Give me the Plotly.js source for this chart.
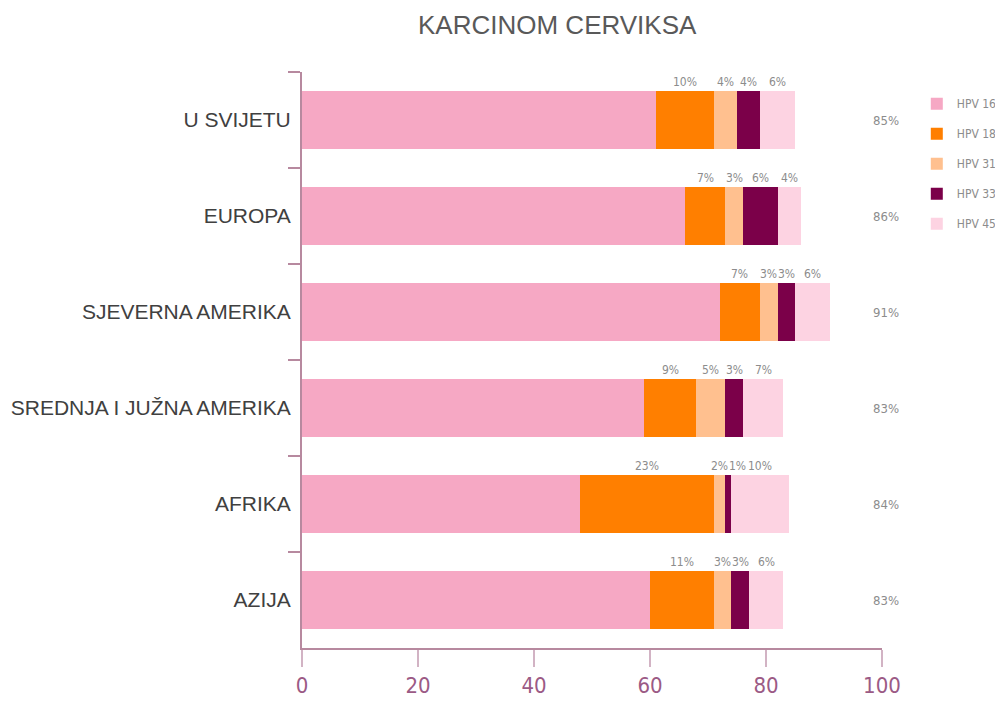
<!DOCTYPE html>
<html><head><meta charset="utf-8">
<script src="https://cdn.plot.ly/plotly-3.0.1.min.js"></script>
<style>body{margin:0;background:#fff}#chart{width:995px;height:704px}</style>
</head><body><div id="chart"></div>
<script>
const categories = ["U SVIJETU","EUROPA","SJEVERNA AMERIKA","SREDNJA I JUŽNA AMERIKA","AFRIKA","AZIJA"];
const seriesNames = ["HPV 16","HPV 18","HPV 31","HPV 33","HPV 45"];
const hpv16 = [61,66,72,59,48,60];
const hpv18 = [10,7,7,9,23,11];
const hpv31 = [4,3,3,5,2,3];
const hpv33 = [4,6,3,3,1,3];
const hpv45 = [6,4,6,7,10,6];
const totals = [85,86,91,83,84,83];
const xTicks = [0,20,40,60,80,100];
const colors = ["#f6a8c4","#ff7f00","#ffc08f","#7b0049","#fdd3e2"];

const series = [hpv16,hpv18,hpv31,hpv33,hpv45];
const traces = series.map((vals,i)=>({
  type:'bar', orientation:'h', name:seriesNames[i], x:vals, y:categories,
  marker:{color:colors[i]}, legendgroup:'g'+i, hoverinfo:'x+name'
}));

const PX_PER_UNIT = 5.8;   // plot width 580px / 100 units, used only to keep labels from colliding
const annotations = [];
const narrow = 'DejaVu Sans Condensed, Liberation Sans Narrow, Liberation Sans, Arial';
const labelFont = {family:narrow, size:12, color:'#8c8c8c'};
categories.forEach((c,ci)=>{
  let cum = hpv16[ci];
  let prevRight = -1e9;
  for (let s=1;s<series.length;s++){
    const v = series[s][ci];
    const txt = v+'%';
    const w = txt.length*8;
    const cx = (cum+v/2)*PX_PER_UNIT;
    let shift = 0;
    if (cx - w/2 < prevRight + 2) shift = prevRight + 2 - (cx - w/2);
    prevRight = cx + shift + w/2;
    annotations.push({x:cum+v/2, y:c, xref:'x', yref:'y', text:txt, showarrow:false,
      yanchor:'bottom', yshift:29, xshift:shift, font:labelFont});
    cum += v;
  }
  annotations.push({x:100, y:c, xref:'x', yref:'y', text:totals[ci]+'%', showarrow:false,
    xanchor:'center', xshift:4, font:{family:narrow, size:13, color:'#8c8c8c'}});
});

const layout = {
  width:995, height:704, barmode:'stack', bargap:0.4,
  margin:{l:302, r:113, t:72, b:56, autoexpand:false},
  paper_bgcolor:'#fff', plot_bgcolor:'#fff',
  title:{text:'KARCINOM CERVIKSA', x:0.56, xref:'container', xanchor:'center', y:0.965, yanchor:'middle',
    font:{family:'Liberation Sans, Arial', size:26, color:'#595959'}},
  xaxis:{range:[0,100], tickvals:xTicks, ticktext:xTicks.map(String), showgrid:false, zeroline:false,
    showline:true, linecolor:'#b7899f', linewidth:2, ticks:'outside', ticklen:17, tickcolor:'#d2b3c4', tickwidth:2,
    tickfont:{family:narrow, size:22, color:'#9b5a85'}, fixedrange:true},
  yaxis:{type:'category', autorange:'reversed', showgrid:false, zeroline:false,
    showline:true, linecolor:'#b7899f', linewidth:2, ticks:'outside', tickson:'boundaries', ticklen:12,
    tickcolor:'#b7899f', tickwidth:2, ticklabelstandoff:5,
    tickfont:{family:'Liberation Sans, Arial', size:21, color:'#404040'}, fixedrange:true},
  legend:{x:1.06, xanchor:'left', y:0.97, yanchor:'top', tracegroupgap:11, itemwidth:30,
    bgcolor:'rgba(0,0,0,0)',
    font:{family:narrow, size:12, color:'#8c8c8c'}},
  annotations:annotations, showlegend:true
};
Plotly.newPlot('chart', traces, layout, {displayModeBar:false, staticPlot:true});
</script></body></html>
